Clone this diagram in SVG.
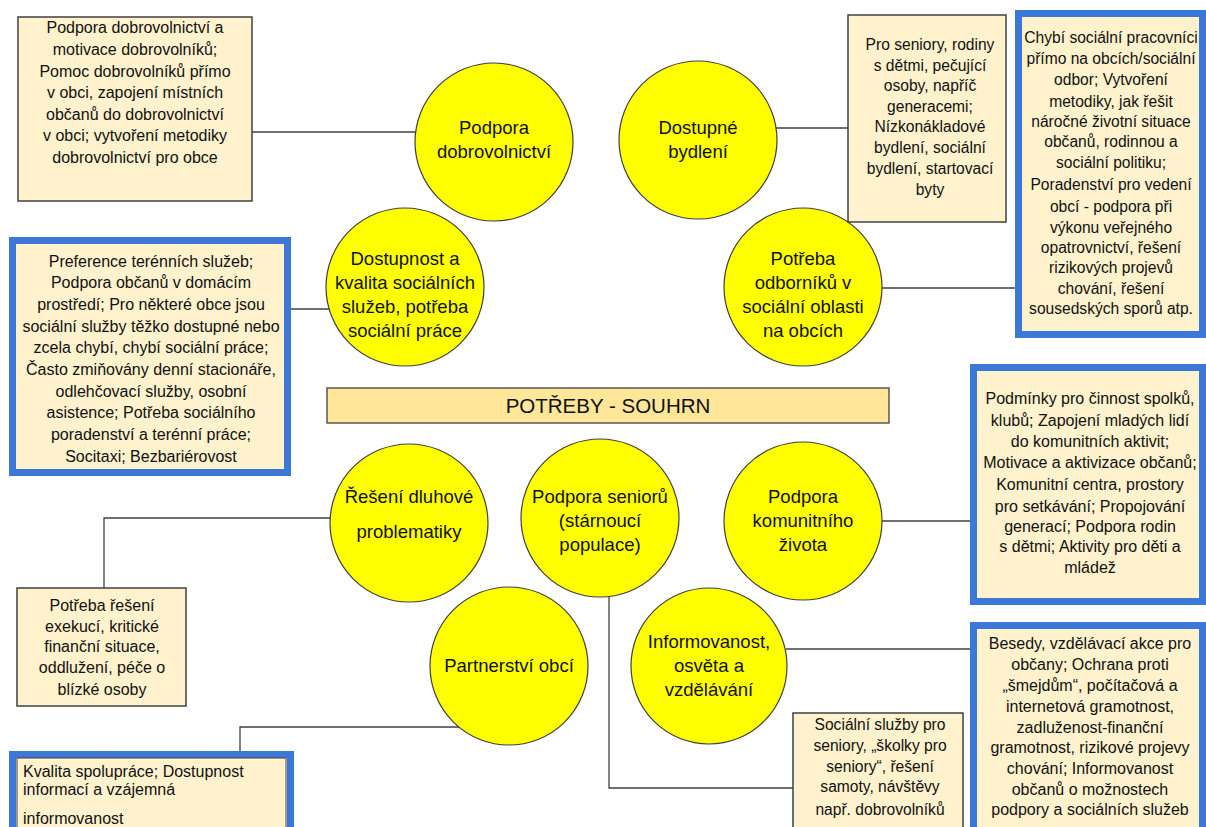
<svg xmlns="http://www.w3.org/2000/svg" width="1206" height="827" viewBox="0 0 1206 827">
<style>
.box{fill:#FFF2CC;stroke:#404040;stroke-width:1.5}
.bbox{fill:#FFF2CC;stroke:#3C78D8;stroke-width:7}
.circ{fill:#FFFF00;stroke:#404040;stroke-width:1.2}
.conn{stroke:#404040;stroke-width:1.3;fill:none}
text{font-family:"Liberation Sans",Arial,sans-serif;fill:#111111}
.t{font-size:16px;text-anchor:middle}
.ts{font-size:15.6px;text-anchor:middle}
.tl{font-size:16px;text-anchor:start}
.c{font-size:18.5px;text-anchor:middle}
.h{font-size:20.5px;text-anchor:middle}
</style>
<rect width="1206" height="827" fill="#ffffff"/>
<g id="connectors">
<line class="conn" x1="252" y1="132" x2="416" y2="132"/>
<line class="conn" x1="776" y1="128" x2="848" y2="128"/>
<line class="conn" x1="288" y1="309" x2="330" y2="309"/>
<line class="conn" x1="882" y1="288" x2="1017" y2="288"/>
<line class="conn" x1="882" y1="521" x2="970" y2="521"/>
<polyline class="conn" points="331,518 104,518 104,588"/>
<polyline class="conn" points="240,751 240,727 459,727"/>
<polyline class="conn" points="609,597 609,788 793,788"/>
<line class="conn" x1="786" y1="649" x2="970" y2="649"/>
</g>
<g id="title">
<rect x="327" y="388" width="562" height="35" fill="#FFE699" stroke="#404040" stroke-width="1.3"/>
<text class="h" x="608" y="413">POTŘEBY - SOUHRN</text>
</g>
<g id="c-dobrovolnictvi">
<circle class="circ" cx="494" cy="142" r="79"/>
<text class="c" x="494" y="134">Podpora</text>
<text class="c" x="494" y="158">dobrovolnictví</text>
</g>
<g id="c-bydleni">
<circle class="circ" cx="698" cy="140" r="79"/>
<text class="c" x="698" y="134">Dostupné</text>
<text class="c" x="698" y="158">bydlení</text>
</g>
<g id="c-socialni-sluzby">
<circle class="circ" cx="405" cy="287" r="79"/>
<text class="c" x="405" y="265">Dostupnost a</text>
<text class="c" x="405" y="289">kvalita sociálních</text>
<text class="c" x="405" y="313">služeb, potřeba</text>
<text class="c" x="405" y="337">sociální práce</text>
</g>
<g id="c-odbornici">
<circle class="circ" cx="803" cy="287" r="79"/>
<text class="c" x="803" y="265">Potřeba</text>
<text class="c" x="803" y="289">odborníků v</text>
<text class="c" x="803" y="313">sociální oblasti</text>
<text class="c" x="803" y="337">na obcích</text>
</g>
<g id="c-dluhy">
<circle class="circ" cx="409" cy="523" r="79"/>
<text class="c" x="409" y="503">Řešení dluhové</text>
<text class="c" x="409" y="538">problematiky</text>
</g>
<g id="c-seniori">
<circle class="circ" cx="600" cy="518" r="79"/>
<text class="c" x="600" y="503">Podpora seniorů</text>
<text class="c" x="600" y="527">(stárnoucí</text>
<text class="c" x="600" y="551">populace)</text>
</g>
<g id="c-komunita">
<circle class="circ" cx="803" cy="521" r="79"/>
<text class="c" x="803" y="503">Podpora</text>
<text class="c" x="803" y="527">komunitního</text>
<text class="c" x="803" y="551">života</text>
</g>
<g id="c-partnerstvi">
<circle class="circ" cx="509" cy="666" r="79"/>
<text class="c" x="509" y="672">Partnerství obcí</text>
</g>
<g id="c-informovanost">
<circle class="circ" cx="709" cy="666" r="78"/>
<text class="c" x="709" y="648">Informovanost,</text>
<text class="c" x="709" y="672">osvěta a</text>
<text class="c" x="709" y="696">vzdělávání</text>
</g>
<g id="b-dobrovolnictvi">
<rect class="box" x="18" y="17" width="234" height="184"/>
<text class="t" x="135" y="33">Podpora dobrovolnictví a</text>
<text class="t" x="135" y="55">motivace dobrovolníků;</text>
<text class="t" x="135" y="77">Pomoc dobrovolníků přímo</text>
<text class="t" x="135" y="98">v obci, zapojení místních</text>
<text class="t" x="135" y="120">občanů do dobrovolnictví</text>
<text class="t" x="135" y="141">v obci; vytvoření metodiky</text>
<text class="t" x="135" y="163">dobrovolnictví pro obce</text>
</g>
<g id="b-bydleni">
<rect class="box" x="848" y="15" width="158" height="207"/>
<text class="ts" x="930" y="50">Pro seniory, rodiny</text>
<text class="ts" x="930" y="71">s dětmi, pečující</text>
<text class="ts" x="930" y="91">osoby, napříč</text>
<text class="ts" x="930" y="112">generacemi;</text>
<text class="ts" x="930" y="132">Nízkonákladové</text>
<text class="ts" x="930" y="153">bydlení, sociální</text>
<text class="ts" x="930" y="174">bydlení, startovací</text>
<text class="ts" x="930" y="195">byty</text>
</g>
<g id="b-odbornici">
<rect class="bbox" x="1018.5" y="13.5" width="184" height="321"/>
<text class="ts" x="1111" y="43">Chybí sociální pracovníci</text>
<text class="ts" x="1111" y="64">přímo na obcích/sociální</text>
<text class="ts" x="1111" y="85">odbor; Vytvoření</text>
<text class="ts" x="1111" y="107">metodiky, jak řešit</text>
<text class="ts" x="1111" y="127">náročné životní situace</text>
<text class="ts" x="1111" y="147">občanů, rodinnou a</text>
<text class="ts" x="1111" y="168">sociální politiku;</text>
<text class="ts" x="1111" y="190">Poradenství pro vedení</text>
<text class="ts" x="1111" y="212">obcí - podpora při</text>
<text class="ts" x="1111" y="233">výkonu veřejného</text>
<text class="ts" x="1111" y="253">opatrovnictví, řešení</text>
<text class="ts" x="1111" y="273">rizikových projevů</text>
<text class="ts" x="1111" y="294">chování, řešení</text>
<text class="ts" x="1111" y="314">sousedských sporů atp.</text>
</g>
<g id="b-socialni-sluzby">
<rect class="bbox" x="12.5" y="240.5" width="275" height="232"/>
<text class="t" x="151" y="267">Preference terénních služeb;</text>
<text class="t" x="151" y="288">Podpora občanů v domácím</text>
<text class="t" x="151" y="310">prostředí; Pro některé obce jsou</text>
<text class="t" x="151" y="332">sociální služby těžko dostupné nebo</text>
<text class="t" x="151" y="353">zcela chybí, chybí sociální práce;</text>
<text class="t" x="151" y="375">Často zmiňovány denní stacionáře,</text>
<text class="t" x="151" y="397">odlehčovací služby, osobní</text>
<text class="t" x="151" y="418">asistence; Potřeba sociálního</text>
<text class="t" x="151" y="440">poradenství a terénní práce;</text>
<text class="t" x="151" y="462">Socitaxi; Bezbariérovost</text>
</g>
<g id="b-komunita">
<rect class="bbox" x="973.5" y="367.5" width="229" height="234"/>
<text class="t" x="1090" y="404">Podmínky pro činnost spolků,</text>
<text class="t" x="1090" y="426">klubů; Zapojení mladých lidí</text>
<text class="t" x="1090" y="447">do komunitních aktivit;</text>
<text class="t" x="1090" y="468">Motivace a aktivizace občanů;</text>
<text class="t" x="1090" y="490">Komunitní centra, prostory</text>
<text class="t" x="1090" y="512">pro setkávání; Propojování</text>
<text class="t" x="1090" y="532">generací; Podpora rodin</text>
<text class="t" x="1090" y="552">s dětmi; Aktivity pro děti a</text>
<text class="t" x="1090" y="573">mládež</text>
</g>
<g id="b-dluhy">
<rect class="box" x="17" y="588" width="169" height="118"/>
<text class="t" x="102" y="611">Potřeba řešení</text>
<text class="t" x="102" y="632">exekucí, kritické</text>
<text class="t" x="102" y="652">finanční situace,</text>
<text class="t" x="102" y="673">oddlužení, péče o</text>
<text class="t" x="102" y="695">blízké osoby</text>
</g>
<g id="b-partnerstvi">
<rect class="bbox" x="12.5" y="754.5" width="278" height="80"/>
<rect x="17" y="758" width="269" height="76" fill="none" stroke="#404040" stroke-width="1"/>
<text class="tl" x="23" y="777">Kvalita spolupráce; Dostupnost</text>
<text class="tl" x="23" y="795">informací a vzájemná</text>
<text class="tl" x="23" y="824">informovanost</text>
</g>
<g id="b-seniori">
<rect class="box" x="793" y="713" width="170" height="130"/>
<text class="ts" x="880" y="730">Sociální služby pro</text>
<text class="ts" x="880" y="751">seniory, „školky pro</text>
<text class="ts" x="880" y="772">seniory“, řešení</text>
<text class="ts" x="880" y="792">samoty, návštěvy</text>
<text class="ts" x="880" y="815">např. dobrovolníků</text>
</g>
<g id="b-informovanost">
<rect class="bbox" x="973.5" y="625.5" width="229" height="205"/>
<text class="t" x="1090" y="649">Besedy, vzdělávací akce pro</text>
<text class="t" x="1090" y="670">občany; Ochrana proti</text>
<text class="t" x="1090" y="691">„šmejdům“, počítačová a</text>
<text class="t" x="1090" y="712">internetová gramotnost,</text>
<text class="t" x="1090" y="733">zadluženost-finanční</text>
<text class="t" x="1090" y="753">gramotnost, rizikové projevy</text>
<text class="t" x="1090" y="774">chování; Informovanost</text>
<text class="t" x="1090" y="795">občanů o možnostech</text>
<text class="t" x="1090" y="815">podpory a sociálních služeb</text>
</g>
</svg>
